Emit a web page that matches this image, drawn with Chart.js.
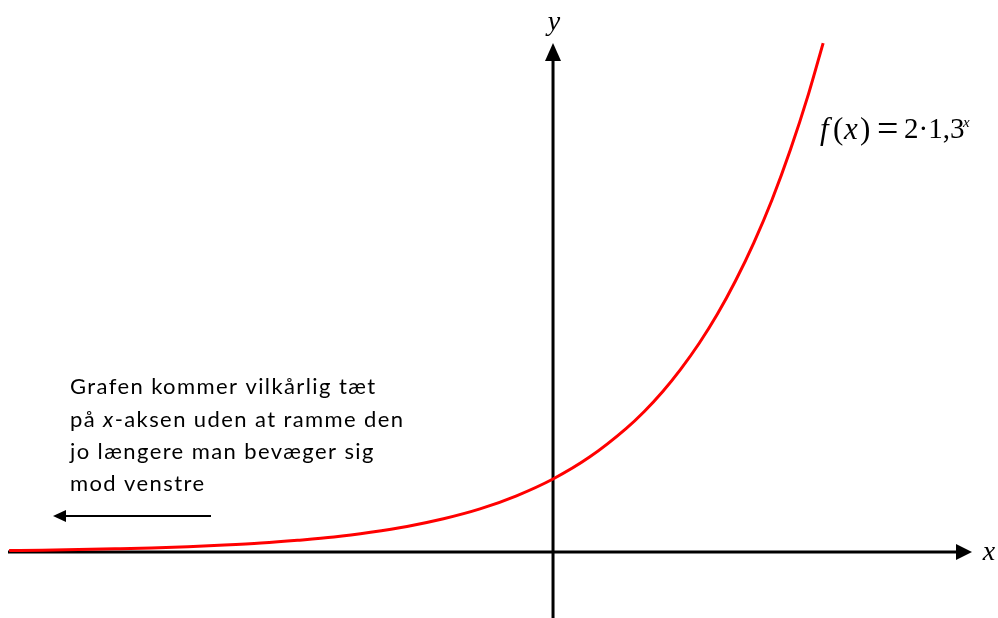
<!DOCTYPE html>
<html>
<head>
<meta charset="utf-8">
<script src="https://cdn.jsdelivr.net/npm/chart.js@4.4.1/dist/chart.umd.min.js"></script>
<style>
  html, body { margin: 0; padding: 0; background: #fff; }
  canvas { display: block; }
</style>
</head>
<body>
<canvas id="graf" width="998" height="618"></canvas>
<script>
// x-værdier og aflæste funktionsværdier for f(x) = 2*1,3^x
const xValues = [-14.9, -14, -13, -12, -11, -10, -9, -8, -7, -6, -5, -4, -3, -2, -1, 0, 1, 2, 2.5, 3, 3.5, 4, 4.5, 5, 5.5, 6, 6.5, 7, 7.4];
const yValues = [0.04, 0.05, 0.066, 0.086, 0.11, 0.145, 0.19, 0.245, 0.32, 0.41, 0.54, 0.70, 0.91, 1.18, 1.54, 2, 2.6, 3.38, 3.85, 4.39, 5.01, 5.71, 6.51, 7.43, 8.47, 9.65, 11.01, 12.55, 13.94];

const noteLines = [
  ['Grafen kommer vilkårlig tæt'],
  ['på ', 'x', '-aksen uden at ramme den'],
  ['jo længere man bevæger sig'],
  ['mod venstre']
];

const points = xValues.map((x, i) => ({ x: x, y: yValues[i] }));

function arrowHead(c, tipX, tipY, dir, len, half) {
  c.beginPath();
  if (dir === 'up') {
    c.moveTo(tipX, tipY);
    c.lineTo(tipX - half, tipY + len);
    c.lineTo(tipX + half, tipY + len);
  } else if (dir === 'right') {
    c.moveTo(tipX, tipY);
    c.lineTo(tipX - len, tipY - half);
    c.lineTo(tipX - len, tipY + half);
  } else {
    c.moveTo(tipX, tipY);
    c.lineTo(tipX + len, tipY - half);
    c.lineTo(tipX + len, tipY + half);
  }
  c.closePath();
  c.fill();
}

// akser tegnes før kurven, så den røde linje ligger øverst
const axesPlugin = {
  id: 'axes',
  beforeDatasetsDraw(chart) {
    const c = chart.ctx;
    const x0 = chart.scales.x.getPixelForValue(0);
    const y0 = chart.scales.y.getPixelForValue(0);
    c.save();
    c.strokeStyle = '#000';
    c.fillStyle = '#000';
    c.lineWidth = 3;
    c.beginPath();
    c.moveTo(8, y0);
    c.lineTo(960, y0);
    c.moveTo(x0, 618);
    c.lineTo(x0, 58);
    c.stroke();
    arrowHead(c, 972, y0, 'right', 16, 8);
    arrowHead(c, x0, 43, 'up', 18, 8);
    c.restore();
  },
  afterDraw(chart) {
    const c = chart.ctx;
    const x0 = chart.scales.x.getPixelForValue(0);
    const y0 = chart.scales.y.getPixelForValue(0);
    c.save();
    c.fillStyle = '#000';
    c.textBaseline = 'alphabetic';

    // aksenavne
    c.font = 'italic 28px "Liberation Serif"';
    c.textAlign = 'center';
    c.fillText('y', x0 + 1, 30);
    c.fillText('x', 989, y0 + 8);

    // forskrift, placeret som i formeleditoren
    c.textAlign = 'left';
    const serif = '"Liberation Serif"';
    [['italic 31px', 'f', 820, 139],
     ['31px', '(', 833, 139],
     ['italic 31px', 'x', 844, 139],
     ['31px', ')', 860, 139],
     ['38px', '=', 877, 141],
     ['29px', '2·1,3', 904, 138]].forEach(p => {
      c.font = p[0] + ' ' + serif;
      c.fillText(p[1], p[2], p[3]);
    });
    c.font = 'italic 15px ' + serif;
    c.fillText('x', 963, 127);

    // forklarende tekst
    const lineY = [394, 427, 459, 491];
    c.letterSpacing = '1.4px';
    noteLines.forEach((line, i) => {
      let tx = 70;
      line.forEach(seg => {
        c.font = (seg === 'x' ? 'italic ' : '') + '22px Lato';
        c.fillText(seg, tx, lineY[i]);
        tx += c.measureText(seg).width;
      });
    });
    c.letterSpacing = '0px';

    // pil mod venstre
    c.lineWidth = 2;
    c.beginPath();
    c.moveTo(211, 516);
    c.lineTo(64, 516);
    c.stroke();
    arrowHead(c, 53, 516, 'left', 13, 6);
    c.restore();
  }
};

new Chart(document.getElementById('graf'), {
  type: 'line',
  data: {
    datasets: [{
      data: points,
      borderColor: '#ff0000',
      borderWidth: 3,
      pointRadius: 0,
      fill: false,
      cubicInterpolationMode: 'monotone'
    }]
  },
  options: {
    responsive: false,
    devicePixelRatio: 1,
    animation: false,
    layout: { padding: 0 },
    plugins: { legend: { display: false }, tooltip: { enabled: false } },
    scales: {
      x: { type: 'linear', min: -15.15, max: 12.19, display: false },
      y: { type: 'linear', min: -1.808, max: 15.12, display: false }
    }
  },
  plugins: [axesPlugin]
});
</script>
</body>
</html>
